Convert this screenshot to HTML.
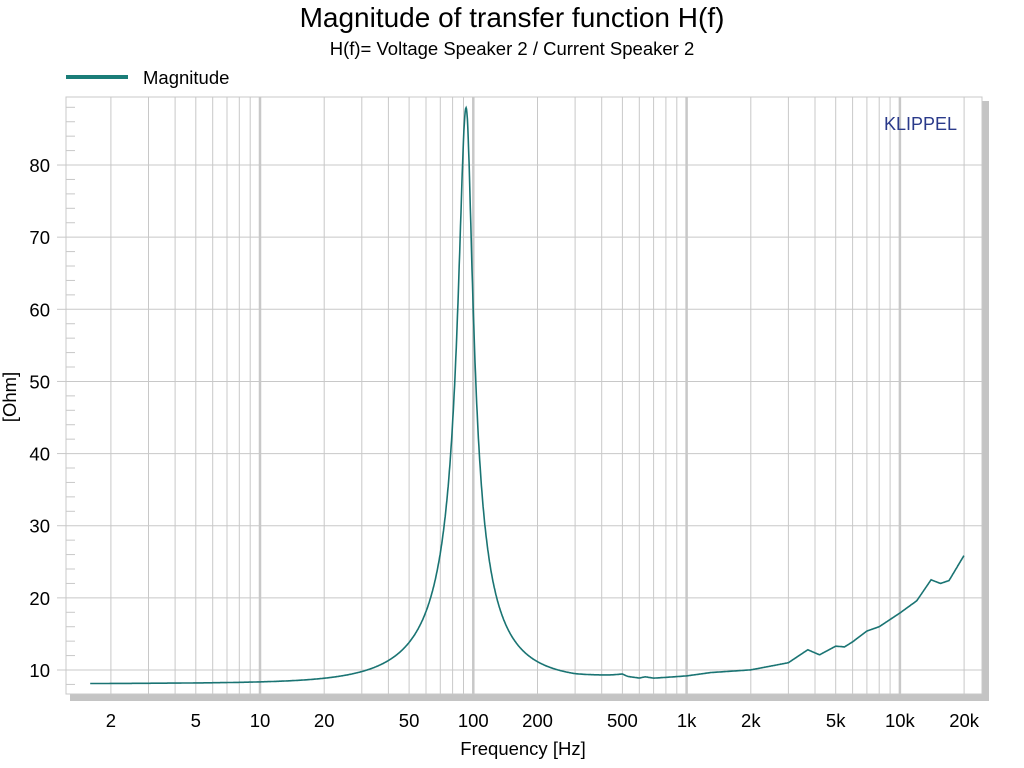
<!DOCTYPE html>
<html><head><meta charset="utf-8"><style>
body{margin:0;background:#fff;width:1024px;height:768px;overflow:hidden}
svg{display:block}
text{font-family:"Liberation Sans",Arial,sans-serif;fill:#000}
</style></head><body>
<svg id="s" width="1024" height="768" viewBox="0 0 1024 768">
<rect x="0" y="0" width="1024" height="768" fill="#fff"/>
<text x="512" y="27" font-size="28" text-anchor="middle">Magnitude of transfer function H(f)</text>
<text x="512" y="55" font-size="18.5" text-anchor="middle">H(f)= Voltage Speaker 2 / Current Speaker 2</text>
<rect x="66" y="75" width="62" height="4" fill="#1a7d78"/>
<text x="143" y="84" font-size="18.5">Magnitude</text>
<rect x="70" y="101" width="919" height="600" fill="#c4c4c4"/>
<rect x="66" y="97" width="916" height="597" fill="#fff" stroke="#c8c8c8" stroke-width="1"/>
<g id="grid"></g>
<text x="884" y="130" font-size="18" style="fill:#2a3a8a">KLIPPEL</text>
<path id="curve" fill="none" stroke="#1a7473" stroke-width="1.6"/>
<g id="labels"></g>
<text x="523" y="755" font-size="18.5" text-anchor="middle">Frequency [Hz]</text>
<text transform="translate(16,397) rotate(-90)" font-size="18.5" text-anchor="middle">[Ohm]</text>
</svg>
<script>
const L=66,T=97,R=982,B=694;
const X=f=>260+213.3*(Math.log10(f)-1);
const Y=v=>670-(v-10)*7.214;
let g='';
for(let d=0;d<=4;d++)for(let k=1;k<=9;k++){const f=k*Math.pow(10,d);const x=X(f);if(x<=L||x>=R)continue;
g+=`<line x1="${x.toFixed(1)}" y1="${T}" x2="${x.toFixed(1)}" y2="${B}" stroke="#c8c8c8" stroke-width="${k==1?2.5:1}"/>`;}
for(let v=10;v<=80;v+=10){const y=Y(v);g+=`<line x1="${L}" y1="${y}" x2="${R}" y2="${y}" stroke="#c8c8c8"/>`;}
for(let v=8;v<=88;v+=2){if(v%10==0)continue;const y=Y(v);g+=`<line x1="${L}" y1="${y}" x2="${L+9}" y2="${y}" stroke="#c8c8c8"/>`;}
for(let v=10;v<=80;v+=10){const y=Y(v);g+=`<line x1="${L-9}" y1="${y}" x2="${L}" y2="${y}" stroke="#c8c8c8"/>`;}
document.getElementById('grid').innerHTML=g;
let lb='';
for(let v=10;v<=80;v+=10)lb+=`<text x="50" y="${Y(v)+7}" font-size="18.5" text-anchor="end">${v}</text>`;
[[2,'2'],[5,'5'],[10,'10'],[20,'20'],[50,'50'],[100,'100'],[200,'200'],[500,'500'],[1000,'1k'],[2000,'2k'],[5000,'5k'],[10000,'10k'],[20000,'20k']].forEach(a=>{lb+=`<text x="${X(a[0])}" y="727" font-size="18.5" text-anchor="middle">${a[1]}</text>`});
document.getElementById('labels').innerHTML=lb;
const tab=[[1,0],[10,0.1],[150,0.15],[300,0.35],[450,0.8],[500,1.0],[530,0.7],[600,0.55],[640,0.75],[700,0.6],[1000,1.0],[1300,1.5],[2000,1.9],[3000,2.9],[3700,4.7],[4200,4.0],[5000,5.2],[5500,5.1],[6000,5.8],[7000,7.3],[8000,7.9],[10000,9.8],[12000,11.5],[14000,14.4],[15500,13.9],[17000,14.3],[20000,17.8]];
function extra(f){const lf=Math.log10(f);for(let i=1;i<tab.length;i++){const a=Math.log10(tab[i-1][0]),b=Math.log10(tab[i][0]);if(lf<=b){return tab[i-1][1]+(tab[i][1]-tab[i-1][1])*(lf-a)/(b-a);}}return tab[tab.length-1][1];}
let d='';const fs=92.5,Res=79.7,Re=8.1;
for(let lf=Math.log10(1.6);lf<=Math.log10(20000);lf+=0.002){const f=Math.pow(10,lf);
const Q=f<fs?6:7;
const dd=Q*(f/fs-fs/f);const den=1+dd*dd;const re=Re+Res/den, im=-Res*dd/den;
let z=Math.sqrt(re*re+im*im)+extra(f);
d+=(d?'L':'M')+X(f).toFixed(1)+','+Y(z).toFixed(1);}
document.getElementById('curve').setAttribute('d',d);
</script>
</body></html>
